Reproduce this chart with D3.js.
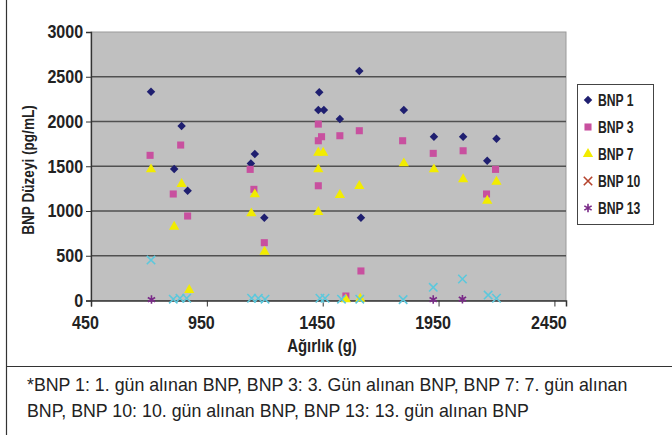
<!DOCTYPE html>
<html>
<head>
<meta charset="utf-8">
<script src="https://cdn.jsdelivr.net/npm/d3@7"></script>
<style>
  html, body { margin: 0; padding: 0; background: #fff; }
  svg { display: block; }
  text { font-family: "Liberation Sans", Arial, sans-serif; }
</style>
</head>
<body>
<svg id="chart" width="672" height="435"></svg>
<script>
// ---- data ----
const seriesNames = ["BNP 1", "BNP 3", "BNP 7", "BNP 10", "BNP 13"];

const bnp1X = [709, 841, 809, 867, 1157, 1140, 1198, 1435, 1431, 1455, 1524, 1608, 1615, 1800, 1930, 2056, 2200, 2160];
const bnp1Y = [2332, 1949, 1469, 1227, 1636, 1532, 925, 2326, 2128, 2128, 2027, 2563, 925, 2128, 1830, 1830, 1807, 1562];

const bnp3X = [705, 837, 805, 867, 1137, 1153, 1198, 1431, 1445, 1431, 1431, 1524, 1608, 1615, 1550, 1795, 1927, 2056, 2196, 2157];
const bnp3Y = [1622, 1737, 1190, 944, 1465, 1242, 646, 1971, 1830, 1785, 1282, 1841, 1897, 330, 50, 1785, 1644, 1673, 1465, 1190];

const bnp7X = [709, 809, 841, 874, 1142, 1157, 1199, 1431, 1452, 1431, 1431, 1524, 1550, 1608, 1612, 1800, 1930, 2056, 2160, 2200];
const bnp7Y = [1465, 824, 1301, 117, 974, 1186, 545, 1651, 1651, 1465, 989, 1178, 13, 1279, 20, 1532, 1465, 1354, 1115, 1327];

const bnp10X = [709, 805, 834, 863, 1143, 1172, 1201, 1438, 1460, 1531, 1610, 1797, 1927, 2053, 2164, 2200];
const bnp10Y = [452, 15, 25, 25, 25, 25, 15, 25, 25, 15, 15, 10, 147, 240, 61, 25];

const bnp13X = [711, 1927, 2053];
const bnp13Y = [10, 10, 15];

const xTicks = [450, 950, 1450, 1950, 2450];
const yTicks = [0, 500, 1000, 1500, 2000, 2500, 3000];

const xTitle = "Ağırlık (g)";
const yTitle = "BNP Düzeyi (pg/mL)";
const footLines = [
  "*BNP 1: 1. gün alınan BNP, BNP 3: 3. Gün alınan BNP, BNP 7: 7. gün alınan",
  "BNP, BNP 10: 10. gün alınan BNP, BNP 13: 13. gün alınan BNP"
];

// ---- drawing ----
const svg = d3.select("#chart");
const plot = { left: 91, right: 566, top: 32, bottom: 300.5 };

const x = d3.scaleLinear().domain([450, 2500]).range([plot.left, plot.right]);
const y = d3.scaleLinear().domain([0, 3000]).range([plot.bottom, plot.top]);

// outer frame lines
svg.append("line").attr("x1", 6.5).attr("x2", 6.5).attr("y1", 0).attr("y2", 435)
  .attr("stroke", "#333").attr("stroke-width", 1.2);
svg.append("line").attr("x1", 6).attr("x2", 672).attr("y1", 366.5).attr("y2", 366.5)
  .attr("stroke", "#333").attr("stroke-width", 1.2);

// plot background
svg.append("rect")
  .attr("x", plot.left).attr("y", plot.top)
  .attr("width", plot.right - plot.left).attr("height", plot.bottom - plot.top)
  .attr("fill", "#c0c0c0").attr("stroke", "#9a9a9a").attr("stroke-width", 1);

// gridlines
svg.append("g").selectAll("line").data(yTicks.filter(d => d > 0 && d < 3000)).join("line")
  .attr("x1", plot.left).attr("x2", plot.right)
  .attr("y1", d => y(d)).attr("y2", d => y(d))
  .attr("stroke", "#505050").attr("stroke-width", 1.3);

// axes
const yAxis = d3.axisLeft(y).tickValues(yTicks).tickSize(5).tickPadding(4).tickFormat(d3.format("d"));
const gy = svg.append("g").attr("transform", `translate(${plot.left},0)`).call(yAxis);
gy.select(".domain").attr("stroke", "#333").attr("stroke-width", 1.3);
gy.selectAll(".tick line").attr("stroke", "#333");
gy.selectAll(".tick text").attr("font-size", 18.5).attr("font-weight", "bold").attr("fill", "#222")
  .attr("font-family", "'Liberation Sans', Arial, sans-serif")
  .attr("transform", "scale(0.87,1)");

const xAxis = d3.axisBottom(x).tickValues(xTicks).tickSize(6).tickPadding(9).tickFormat(d3.format("d"));
const gx = svg.append("g").attr("transform", `translate(0,${plot.bottom})`).call(xAxis);
gx.select(".domain").attr("stroke", "#333").attr("stroke-width", 1.5);
gx.selectAll(".tick line").attr("stroke", "#333");
gx.selectAll(".tick text").attr("font-size", 18.5).attr("font-weight", "bold").attr("fill", "#222")
  .attr("font-family", "'Liberation Sans', Arial, sans-serif")
  .attr("transform", "translate(-6,0) scale(0.87,1)");

// axis titles
svg.append("text").attr("transform", "translate(322,352) scale(0.83,1)").attr("text-anchor", "middle")
  .attr("font-size", 18).attr("font-weight", "bold").attr("fill", "#222").text(xTitle);
svg.append("text").attr("transform", "translate(34,170) rotate(-90) scale(0.8,1)").attr("text-anchor", "middle")
  .attr("font-size", 17).attr("font-weight", "bold").attr("fill", "#222").text(yTitle);

// markers
const diamond = d3.symbol().type(d3.symbolSquare).size(36)();
const square = d3.symbol().type(d3.symbolSquare).size(50)();
const triangle = d3.symbol().type(d3.symbolTriangle).size(46)();
const cross = d3.symbol().type(d3.symbolX).size(48)();
const star = d3.symbol().type(d3.symbolAsterisk).size(50)();

const series = [
  { xs: bnp1X, ys: bnp1Y, path: diamond, rot: 45, fill: "#1f1f70", stroke: "none", legendFill: "#1f1f70", legendStroke: "none" },
  { xs: bnp3X, ys: bnp3Y, path: square, rot: 0, fill: "#c8509f", stroke: "none", legendFill: "#c8509f", legendStroke: "none" },
  { xs: bnp7X, ys: bnp7Y, path: triangle, rot: 0, fill: "#f2ec00", stroke: "none", legendFill: "#f2ec00", legendStroke: "none" },
  { xs: bnp10X, ys: bnp10Y, path: cross, rot: 0, fill: "none", stroke: "#5cc8dc", legendFill: "none", legendStroke: "#b5442e" },
  { xs: bnp13X, ys: bnp13Y, path: star, rot: 0, fill: "none", stroke: "#7a2a88", legendFill: "none", legendStroke: "#7a2a88" }
];

series.forEach(s => {
  const pts = s.xs.map((v, i) => [v, s.ys[i]]);
  svg.append("g").selectAll("path").data(pts).join("path")
    .attr("d", s.path)
    .attr("transform", d => `translate(${x(d[0])},${y(d[1])}) rotate(${s.rot})`)
    .attr("fill", s.fill)
    .attr("stroke", s.stroke)
    .attr("stroke-width", s.stroke === "none" ? 0 : 1.6);
});

// legend
const lg = svg.append("g");
lg.append("rect").attr("x", 577.5).attr("y", 84.5).attr("width", 76).attr("height", 140)
  .attr("fill", "#fff").attr("stroke", "#444").attr("stroke-width", 1);
series.forEach((s, i) => {
  const cy = 100 + i * 27;
  lg.append("path").attr("d", s.path)
    .attr("transform", `translate(588,${cy}) rotate(${s.rot})`)
    .attr("fill", s.legendFill).attr("stroke", s.legendStroke)
    .attr("stroke-width", s.legendStroke === "none" ? 0 : 1.6);
  lg.append("text").attr("transform", `translate(598,${cy + 6}) scale(0.76,1)`)
    .attr("font-size", 16).attr("font-weight", "bold").attr("fill", "#222")
    .text(seriesNames[i]);
});

// footnote
svg.selectAll(".foot").data(footLines).join("text")
  .attr("class", "foot")
  .attr("x", 27)
  .attr("y", (d, i) => 391 + i * 26)
  .attr("font-size", 17.8).attr("fill", "#222")
  .text(d => d);
</script>
</body>
</html>
